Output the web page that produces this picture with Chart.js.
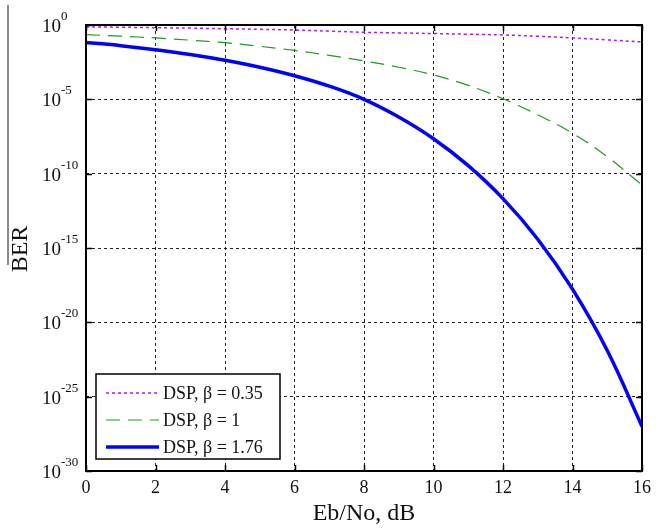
<!DOCTYPE html>
<html>
<head>
<meta charset="utf-8">
<script src="https://cdn.jsdelivr.net/npm/chart.js@4/dist/chart.umd.min.js"></script>
<style>
  html, body { margin: 0; padding: 0; background: #fff; }
  #wrap { width: 656px; height: 530px; }
</style>
</head>
<body>
<div id="wrap"><canvas id="berChart" width="656" height="530"></canvas></div>
<script>
// Eb/No in dB and log10(BER)
const ebno = [0, 1, 2, 3, 4, 5, 6, 7, 8, 9, 10, 11, 12, 13, 14, 15, 16];
const ber035 = [-0.13, -0.15, -0.18, -0.21, -0.25, -0.29, -0.34, -0.41, -0.49, -0.53, -0.575, -0.62, -0.67, -0.76, -0.87, -1.0, -1.14];
const ber1 = [-0.65, -0.75, -0.87, -1.02, -1.19, -1.43, -1.71, -2.04, -2.42, -2.84, -3.36, -4.06, -4.96, -6.04, -7.28, -8.86, -10.76];
const ber176 = [-1.17, -1.39, -1.66, -1.98, -2.37, -2.84, -3.41, -4.11, -5.0, -6.19, -7.65, -9.46, -11.68, -14.41, -17.77, -21.9, -27.0];
const seriesLabels = ['DSP, \u03b2 = 0.35', 'DSP, \u03b2 = 1', 'DSP, \u03b2 = 1.76'];
const xTicks = [0, 2, 4, 6, 8, 10, 12, 14, 16];
const yTicks = [0, -5, -10, -15, -20, -25, -30];

const serif = '"Liberation Serif", "DejaVu Serif", serif';

function pts(ys) {
    return ebno.map((x, i) => ({ x: x, y: ys[i] }));
}

// axes labels, box, legend drawn on top of the plot
const decorations = {
    id: 'decorations',
    afterDraw(chart) {
        const ctx = chart.ctx;
        const a = chart.chartArea;
        const xs = chart.scales.x;
        const ys = chart.scales.y;
        ctx.save();

        // scan edge line
        ctx.strokeStyle = '#8a8a8a';
        ctx.lineWidth = 2;
        ctx.beginPath();
        ctx.moveTo(8, 5);
        ctx.lineTo(8, 265);
        ctx.stroke();

        // inner tick marks
        ctx.strokeStyle = '#000';
        ctx.lineWidth = 1.5;
        ctx.beginPath();
        xTicks.forEach(v => {
            const px = Math.round(xs.getPixelForValue(v)) + 0.5;
            ctx.moveTo(px, a.bottom); ctx.lineTo(px, a.bottom - 6);
            ctx.moveTo(px, a.top); ctx.lineTo(px, a.top + 6);
        });
        yTicks.forEach(v => {
            const py = Math.round(ys.getPixelForValue(v)) + 0.5;
            ctx.moveTo(a.left, py); ctx.lineTo(a.left + 6, py);
            ctx.moveTo(a.right, py); ctx.lineTo(a.right - 6, py);
        });
        ctx.stroke();

        // box
        ctx.lineWidth = 2;
        ctx.strokeRect(a.left, a.top, a.right - a.left, a.bottom - a.top);

        // x tick labels
        ctx.fillStyle = '#111';
        ctx.font = '18px ' + serif;
        ctx.textAlign = 'center';
        ctx.textBaseline = 'alphabetic';
        xTicks.forEach(v => {
            ctx.fillText(String(v), xs.getPixelForValue(v), a.bottom + 22);
        });

        // y tick labels 10^n
        yTicks.forEach(v => {
            const py = ys.getPixelForValue(v);
            const ex = 61;
            ctx.font = '13px ' + serif;
            ctx.textAlign = 'left';
            ctx.fillText(String(v), ex, py - 5);
            ctx.font = '19px ' + serif;
            ctx.textAlign = 'right';
            ctx.fillText('10', ex, py + 7);
        });

        // axis titles
        ctx.font = '24px ' + serif;
        ctx.textAlign = 'center';
        ctx.fillText('Eb/No, dB', (a.left + a.right) / 2, 520);
        ctx.save();
        ctx.translate(27, 249);
        ctx.rotate(-Math.PI / 2);
        ctx.fillText('BER', 0, 0);
        ctx.restore();

        // legend
        const lx = 96, ly = 374, lw = 184, lh = 85;
        ctx.fillStyle = '#fff';
        ctx.fillRect(lx, ly, lw, lh);
        ctx.strokeStyle = '#000';
        ctx.lineWidth = 1.5;
        ctx.strokeRect(lx, ly, lw, lh);
        chart.data.datasets.forEach((ds, i) => {
            const y = ly + 19 + i * 27;
            ctx.strokeStyle = ds.borderColor;
            ctx.lineWidth = ds.borderWidth;
            ctx.setLineDash(ds.borderDash || []);
            ctx.beginPath();
            ctx.moveTo(lx + 10, y);
            ctx.lineTo(lx + 63, y);
            ctx.stroke();
            ctx.setLineDash([]);
            ctx.fillStyle = '#111';
            ctx.font = '18px ' + serif;
            ctx.textAlign = 'left';
            ctx.textBaseline = 'middle';
            ctx.fillText(ds.label, lx + 67, y + 1);
        });

        ctx.restore();
    }
};

new Chart(document.getElementById('berChart'), {
    type: 'line',
    data: {
        datasets: [
            {
                label: seriesLabels[0],
                data: pts(ber035),
                borderColor: '#a020f0',
                borderWidth: 1.5,
                borderDash: [3, 3],
                pointRadius: 0,
                tension: 0.4
            },
            {
                label: seriesLabels[1],
                data: pts(ber1),
                borderColor: '#1e9a1e',
                borderWidth: 1.2,
                borderDash: [14, 8],
                pointRadius: 0,
                tension: 0.4
            },
            {
                label: seriesLabels[2],
                data: pts(ber176),
                borderColor: '#0000ff',
                borderWidth: 3.5,
                pointRadius: 0,
                tension: 0.4
            }
        ]
    },
    options: {
        responsive: false,
        animation: false,
        layout: { padding: { left: 86, right: 14, top: 25, bottom: 59 } },
        plugins: {
            legend: { display: false },
            tooltip: { enabled: false }
        },
        scales: {
            x: {
                type: 'linear',
                min: 0,
                max: 16,
                ticks: { display: false, stepSize: 2 },
                grid: { color: '#222', lineWidth: 1, drawTicks: false },
                border: { display: false, dash: [3, 3] }
            },
            y: {
                type: 'linear',
                min: -30,
                max: 0,
                ticks: { display: false, stepSize: 5 },
                grid: { color: '#222', lineWidth: 1, drawTicks: false },
                border: { display: false, dash: [3, 3] }
            }
        }
    },
    plugins: [decorations]
});
</script>
</body>
</html>
